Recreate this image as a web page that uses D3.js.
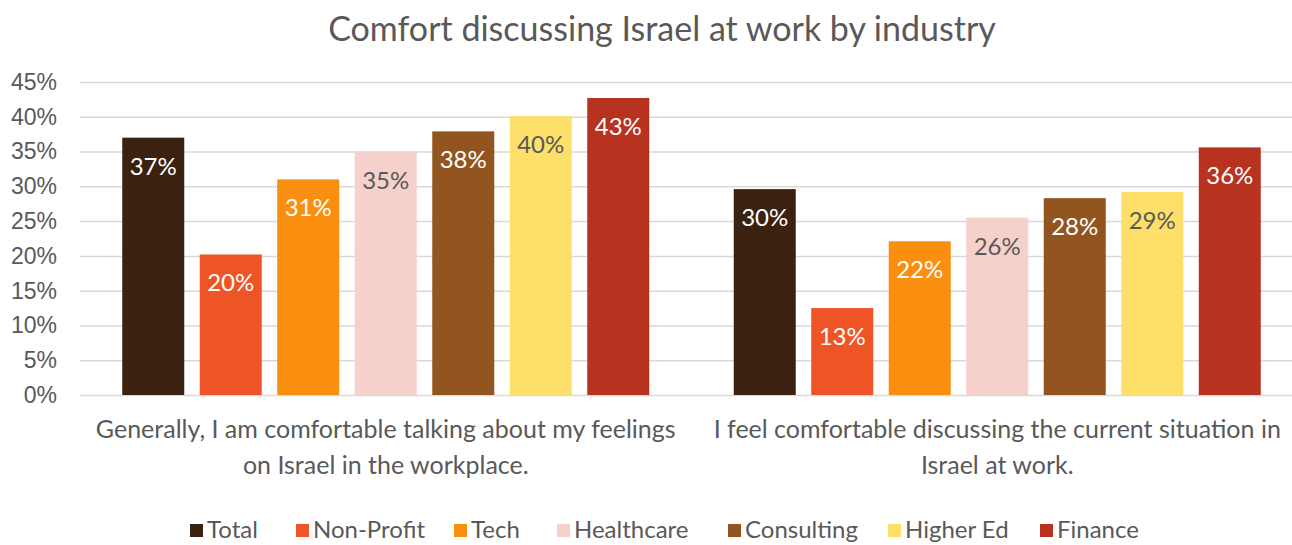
<!DOCTYPE html>
<html>
<head>
<meta charset="utf-8">
<script src="https://cdn.jsdelivr.net/npm/d3@7"></script>
<style>
  body { margin: 0; background: #fff; }
  svg { display: block; font-family: Lato, "Open Sans", sans-serif; }
</style>
</head>
<body>
<script>
const categories = [
  ["Generally, I am comfortable talking about my feelings", "on Israel in the workplace."],
  ["I feel comfortable discussing the current situation in", "Israel at work."]
];
const series = ["Total", "Non-Profit", "Tech", "Healthcare", "Consulting", "Higher Ed", "Finance"];
const colors = ["#3b2210", "#ee5426", "#fa8f0f", "#f6d1cb", "#935520", "#fddf6a", "#b7321f"];
const darkLabel = ["Healthcare", "Higher Ed"];
const comfortTalking = [37.0, 20.2, 31.0, 34.9, 37.9, 40.1, 42.7];
const comfortDiscussing = [29.6, 12.5, 22.1, 25.5, 28.3, 29.2, 35.6];
const yTicks = [0, 5, 10, 15, 20, 25, 30, 35, 40, 45];

const values = [comfortTalking, comfortDiscussing];
const width = 1292, height = 545;
const margin = {top: 82, right: -11, bottom: 150, left: 80};
const grey = "#595959";

const svg = d3.select("body").append("svg")
  .attr("width", width)
  .attr("height", height);

const x0 = d3.scaleBand()
  .domain(d3.range(categories.length))
  .range([margin.left, width - margin.right]);

const x1 = d3.scaleBand()
  .domain(series)
  .range([0, x0.bandwidth()])
  .paddingInner(0.2)
  .paddingOuter(0.545);

const y = d3.scaleLinear()
  .domain([0, 45])
  .range([height - margin.bottom, margin.top]);

// gridlines + y labels
const yAxis = svg.append("g")
  .attr("transform", `translate(${margin.left},0)`)
  .call(d3.axisLeft(y).tickValues(yTicks).tickFormat(d => d + "%")
    .tickSize(-(width - margin.left - margin.right)).tickPadding(23));
yAxis.select(".domain").remove();
yAxis.selectAll(".tick line").attr("stroke", "#d9d9d9").attr("stroke-width", 1.5);
yAxis.selectAll(".tick text").attr("fill", grey).style("font-size", "23px");

// title
svg.append("text")
  .attr("x", 662)
  .attr("y", 41)
  .attr("text-anchor", "middle")
  .attr("fill", grey)
  .style("font-size", "34px")
  .text("Comfort discussing Israel at work by industry");

const groups = svg.selectAll(".grp")
  .data(values)
  .join("g")
  .attr("class", "grp")
  .attr("transform", (d, i) => `translate(${x0(i)},0)`);

const cells = groups.selectAll("g")
  .data(d => d.map((v, j) => ({key: series[j], value: v, color: colors[j]})))
  .join("g");

cells.append("rect")
  .attr("x", d => x1(d.key))
  .attr("y", d => y(d.value))
  .attr("width", x1.bandwidth())
  .attr("height", d => y(0) - y(d.value))
  .attr("fill", d => d.color);

cells.append("text")
  .attr("x", d => x1(d.key) + x1.bandwidth() / 2)
  .attr("y", d => y(d.value) + 37)
  .attr("text-anchor", "middle")
  .attr("fill", d => darkLabel.includes(d.key) ? grey : "#fff")
  .style("font-size", "24px")
  .text(d => Math.round(d.value) + "%");

// category labels
const catText = svg.selectAll(".cat")
  .data(categories)
  .join("text")
  .attr("class", "cat")
  .attr("text-anchor", "middle")
  .attr("fill", grey)
  .style("font-size", "25px");
catText.selectAll("tspan")
  .data((d, i) => d.map(line => ({line, i})))
  .join("tspan")
  .attr("x", d => x0(d.i) + x0.bandwidth() / 2)
  .attr("y", (d, k) => 438 + k * 36)
  .text(d => d.line);

// legend
const legendX = [190, 296, 454, 557, 728, 888, 1040];
const legend = svg.selectAll(".leg")
  .data(series)
  .join("g")
  .attr("class", "leg")
  .attr("transform", (d, i) => `translate(${legendX[i]},524)`);
legend.append("rect")
  .attr("width", 13).attr("height", 13)
  .attr("fill", (d, i) => colors[i]);
legend.append("text")
  .attr("x", 17)
  .attr("y", 14)
  .attr("fill", grey)
  .style("font-size", "24px")
  .text(d => d);
</script>
</body>
</html>
